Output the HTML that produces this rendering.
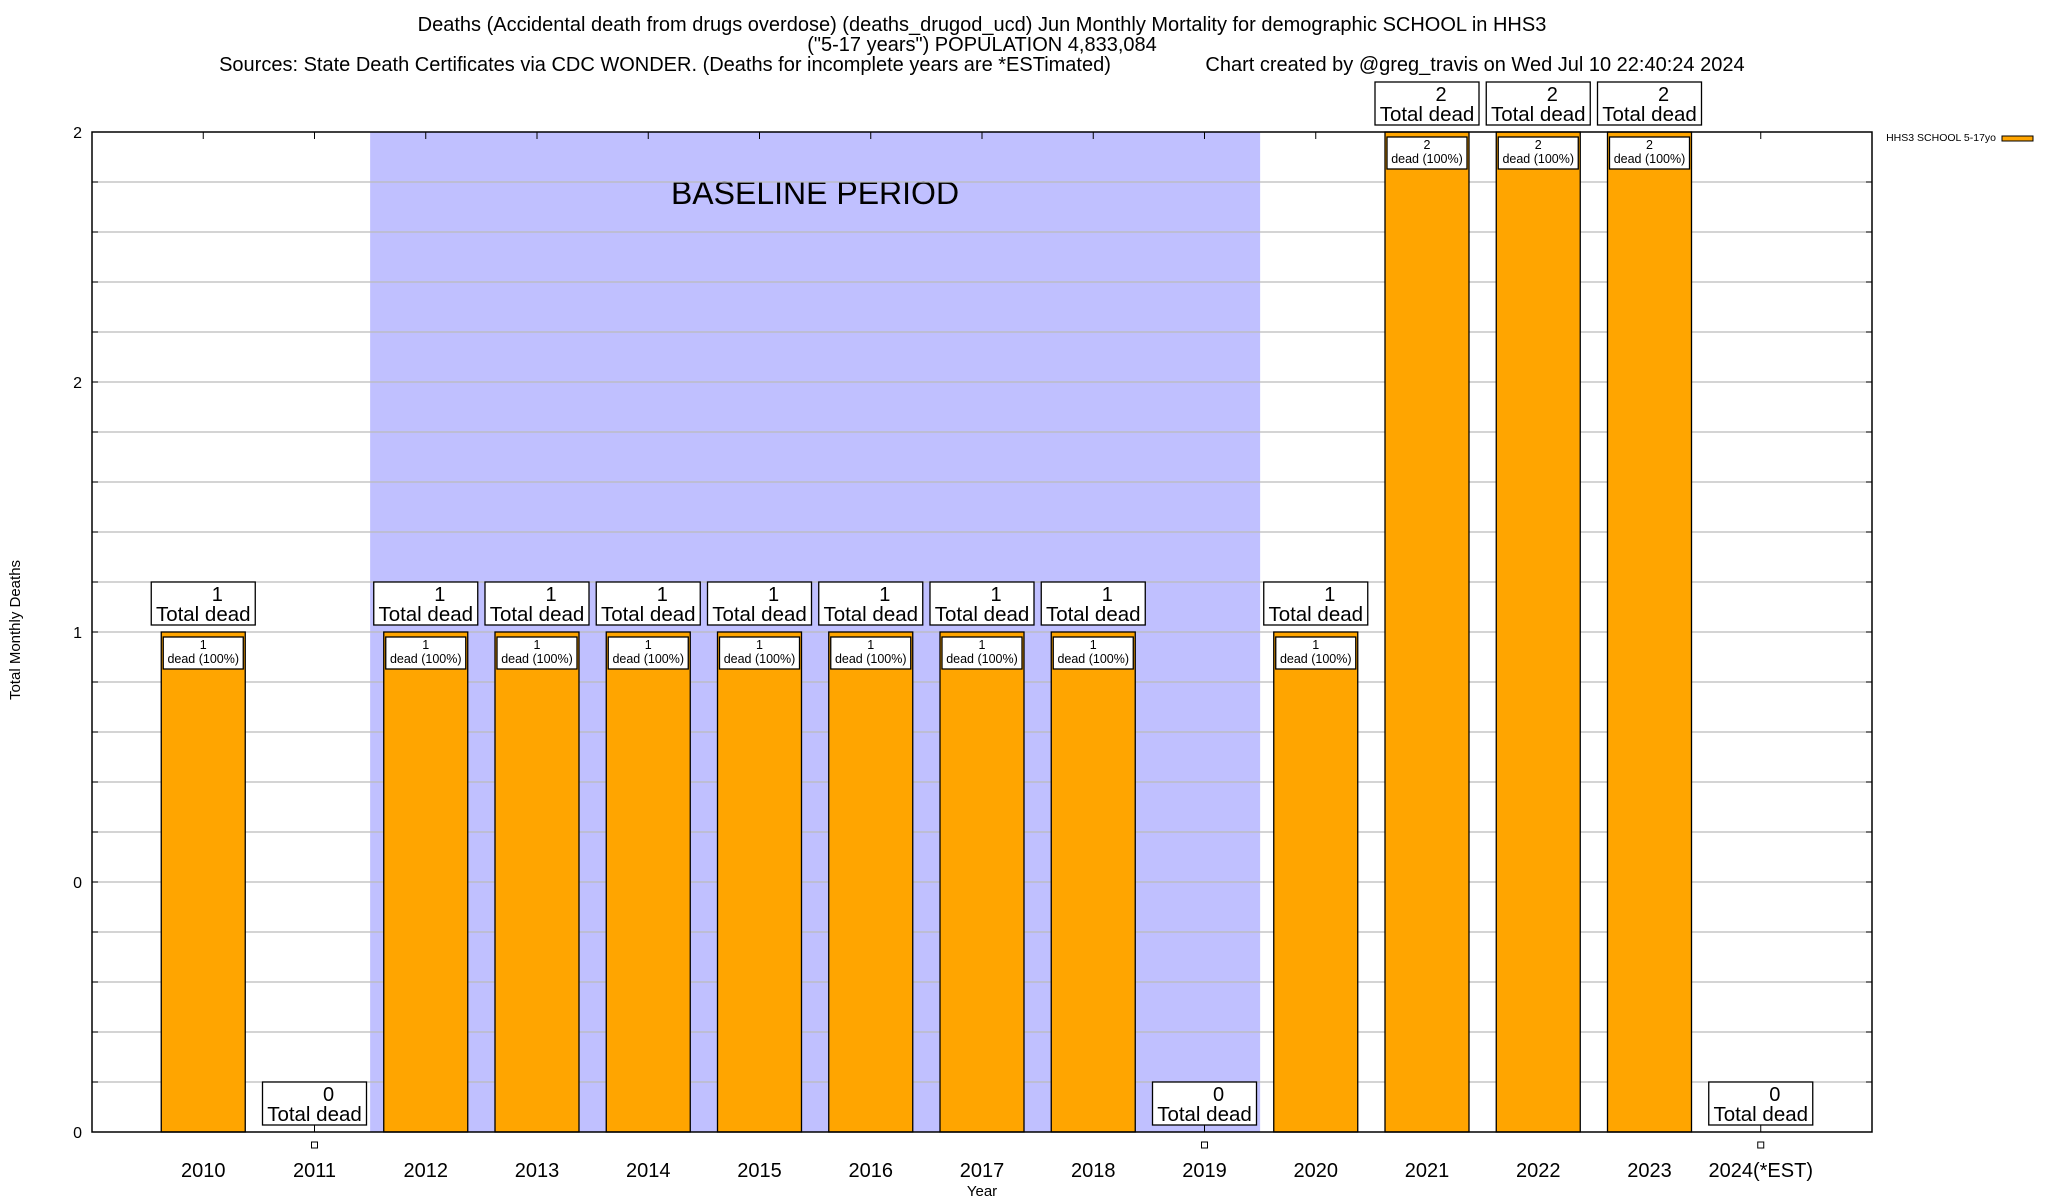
<!DOCTYPE html>
<html><head><meta charset="utf-8"><style>
html,body{margin:0;padding:0;background:#fff;}
svg{display:block;font-family:"Liberation Sans",Arial,sans-serif;}
</style></head><body>
<svg id="chart" width="2048" height="1200" viewBox="0 0 2048 1200" xmlns="http://www.w3.org/2000/svg">
<g font-size="20" text-anchor="middle" fill="#000">
<text x="982" y="31">Deaths (Accidental death from drugs overdose) (deaths_drugod_ucd) Jun Monthly Mortality for demographic SCHOOL in HHS3</text>
<text x="982" y="51">("5-17 years") POPULATION 4,833,084</text>
<text x="665" y="71">Sources: State Death Certificates via CDC WONDER. (Deaths for incomplete years are *ESTimated)</text>
<text x="1475" y="71">Chart created by @greg_travis on Wed Jul 10 22:40:24 2024</text>
</g>
<g id="plot"></g>
<text x="982" y="1196" font-size="15" text-anchor="middle">Year</text>
<text transform="translate(20,630) rotate(-90)" font-size="15" text-anchor="middle">Total Monthly Deaths</text>
<g>
<text x="1996" y="141" font-size="10.5" text-anchor="end">HHS3 SCHOOL 5-17yo</text>
<rect x="2002" y="136" width="31" height="5" fill="#ffa500" stroke="#000" stroke-width="1"/>
</g>
</svg>
<script>
const categories=["2010","2011","2012","2013","2014","2015","2016","2017","2018","2019","2020","2021","2022","2023","2024(*EST)"];
const deaths=[1,0,1,1,1,1,1,1,1,0,1,2,2,2,0];
const yTickLabels=["0","0","1","2","2"];
const yTickValues=[0,0.5,1,1.5,2];
const baselineStart=2; const baselineEnd=9;

const L=92,R=1872,T=132,B=1132;
const xs=i=>L+(i+1)*(R-L)/16;
const ys=v=>B-(v/2)*(B-T);
const NS="http://www.w3.org/2000/svg";
const plot=document.getElementById('plot');
function mk(tag,attrs,parent,text){const e=document.createElementNS(NS,tag);for(const k in attrs)e.setAttribute(k,attrs[k]);if(text!==undefined)e.textContent=text;(parent||plot).appendChild(e);return e;}

const bl=mk('rect',{x:xs(baselineStart-0.5),y:T,width:xs(baselineEnd+0.5)-xs(baselineStart-0.5),height:B-T,fill:'#c0c0ff'});


const blt=mk('text',{x:815,y:204,'font-size':32,'text-anchor':'middle'},plot,'BASELINE PERIOD');



for(let k=1;k<20;k++){
  const y=B-k*(B-T)/20;
  const g=mk('line',{x1:L,x2:R,y1:y,y2:y,stroke:'#bbb','stroke-width':1.3});
  
  
  mk('line',{x1:L,x2:L+6,y1:y,y2:y,stroke:'#000'});
  mk('line',{x1:R-6,x2:R,y1:y,y2:y,stroke:'#000'});
}
yTickValues.forEach((v,i)=>{
  const t=mk('text',{x:82,y:ys(v)+6,'font-size':16,'text-anchor':'end'},plot,yTickLabels[i]);
  
  
});

categories.forEach((c,i)=>{
  const cx=xs(i), v=deaths[i];
  mk('line',{x1:cx,x2:cx,y1:B,y2:B-7,stroke:'#000'});
  mk('line',{x1:cx,x2:cx,y1:T,y2:T+7,stroke:'#000'});
  if(v>0){
    const b=mk('rect',{x:cx-42,y:ys(v),width:84,height:B-ys(v),fill:'#ffa500',stroke:'#000','stroke-width':1.3});
    
    
    const ib=mk('rect',{x:cx-40,y:ys(v)+5,width:80,height:32,fill:'#fff',stroke:'#000','stroke-width':1.3});
    
    
    mk('text',{x:cx,y:ys(v)+17,'font-size':12.5,'text-anchor':'middle'},plot,String(v));
    mk('text',{x:cx,y:ys(v)+31,'font-size':12.5,'text-anchor':'middle'},plot,'dead (100%)');
  } else {
    mk('rect',{x:cx-3,y:1142,width:6,height:6,fill:'#fff',stroke:'#000','stroke-width':1});
  }
  const by=ys(v)-50;
  const tb=mk('rect',{x:cx-52,y:by,width:104,height:43,fill:'#fff',stroke:'#000','stroke-width':1.3});
  
  
  mk('text',{x:cx+14,y:by+19,'font-size':20,'text-anchor':'middle'},plot,String(v));
  mk('text',{x:cx,y:by+39,'font-size':20.5,'text-anchor':'middle'},plot,'Total dead');
  const xl=mk('text',{x:cx,y:1177,'font-size':20,'text-anchor':'middle'},plot,c);
  
  
});
const fr=mk('rect',{x:L,y:T,width:R-L,height:B-T,fill:'none',stroke:'#000','stroke-width':1.5});


</script>
</body></html>
